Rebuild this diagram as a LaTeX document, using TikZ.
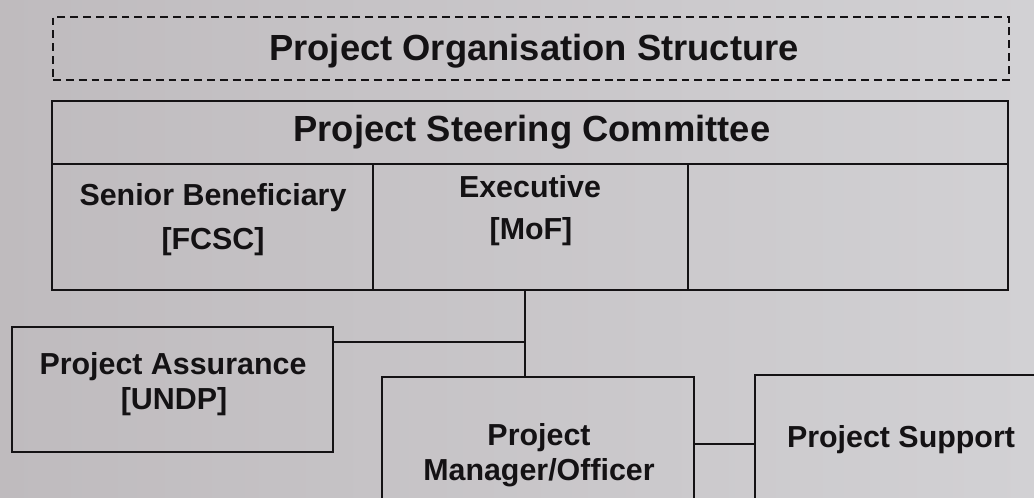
\documentclass[tikz,border=0pt]{standalone}
\usepackage{fontspec}
\setmainfont{Liberation Sans}
\begin{document}
\definecolor{paperL}{RGB}{191,187,190}
\definecolor{paperR}{RGB}{210,209,212}
\definecolor{ink}{RGB}{20,18,20}
\begin{tikzpicture}[x=0.02cm, y=-0.02cm,
  frame/.style={draw=ink, line width=1.4pt, rectangle, inner sep=0pt},
  link/.style={draw=ink, line width=1.4pt},
  headtext/.style={anchor=base, inner sep=0pt, text=ink, font=\fontsize{20.7}{24}\selectfont\bfseries},
  celltext/.style={anchor=base, inner sep=0pt, text=ink, font=\fontsize{17.3}{20}\selectfont\bfseries}]
  % paper
  \shade[left color=paperL, right color=paperR] (0,0) rectangle (1034,497);
  \useasboundingbox (0,0) rectangle (1034,497);
  \clip (0,0) rectangle (1034,497);

  % heading
  \node[frame, dashed, line width=1.1pt, dash pattern=on 4.5pt off 2.8pt,
        minimum width=19.12cm, minimum height=1.26cm] (title) at (531,48.5) {};
  \node[headtext] (titletext) at (534,60) {Project Organisation Structure};

  % steering committee
  \node[frame, minimum width=19.12cm, minimum height=1.26cm] (steer) at (530,132.5) {};
  \node[headtext] (steertext) at (532,141) {Project Steering Committee};
  \node[frame, minimum width=6.42cm, minimum height=2.52cm] (sb) at (212.5,227) {};
  \node[frame, minimum width=6.30cm, minimum height=2.52cm] (ex) at (530.5,227) {};
  \node[frame, minimum width=6.40cm, minimum height=2.52cm] (su) at (848,227) {};
  \node[celltext] (sbA) at (213,205) {Senior Beneficiary};
  \node[celltext] (sbB) at (213,249) {[FCSC]};
  \node[celltext] (exA) at (530,197) {Executive};
  \node[celltext] (exB) at (531,239) {[MoF]};

  % lower boxes
  \node[frame, minimum width=6.42cm, minimum height=2.50cm] (assur) at (172.5,389.5) {};
  \node[celltext] (assurA) at (173,374) {Project Assurance};
  \node[celltext] (assurB) at (174,409) {[UNDP]};

  \node[frame, minimum width=6.24cm, minimum height=3.32cm] (mgr) at (538,460) {};
  \node[celltext] (mgrA) at (539,445) {Project};
  \node[celltext] (mgrB) at (539,480) {Manager/Officer};

  \node[frame, minimum width=6.90cm, minimum height=3.30cm] (supp) at (927.5,457.5) {};
  \node[celltext] (suppA) at (901,447) {Project Support};

  % connectors
  \coordinate (j) at (525,342);
  \coordinate (k) at (725,444);
  \draw[link] (ex.south -| j) -- (mgr.north -| j);
  \draw[link] (assur.east |- j) -- (j);
  \draw[link] (mgr.east |- k) -- (supp.west |- k);
\end{tikzpicture}
\end{document}
